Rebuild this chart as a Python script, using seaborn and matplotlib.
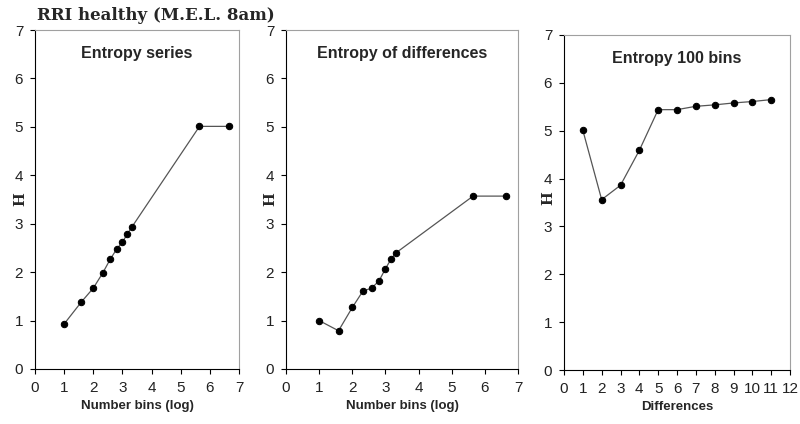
import matplotlib
matplotlib.use("Agg")
import matplotlib.pyplot as plt
import seaborn as sns
import pandas as pd

sns.set_theme(style="white")
plt.rcParams['font.family'] = ['Liberation Sans', 'DejaVu Sans']

title = "RRI healthy (M.E.L. 8am)"
# Panel 1: Entropy series
x_bins_log = [1.0, 1.585, 2.0, 2.322, 2.585, 2.807, 3.0, 3.17, 3.322, 5.644, 6.644]
h_series = [0.93, 1.38, 1.67, 1.98, 2.27, 2.48, 2.62, 2.79, 2.93, 5.01, 5.01]
# Panel 2: Entropy of differences
h_diffs = [1.0, 0.79, 1.27, 1.61, 1.67, 1.82, 2.07, 2.27, 2.40, 3.57, 3.57]
# Panel 3: Entropy 100 bins
differences = [1, 2, 3, 4, 5, 6, 7, 8, 9, 10, 11]
h_100 = [5.01, 3.56, 3.86, 4.59, 5.44, 5.44, 5.51, 5.54, 5.58, 5.61, 5.65]

panel_titles = ["Entropy series", "Entropy of differences", "Entropy 100 bins"]
xlabels = ["Number bins (log)", "Number bins (log)", "Differences"]

fig = plt.figure(figsize=(8.0, 4.24), dpi=100)
fig.patch.set_facecolor('white')

rects = [
    [35/800, 55/424, 204/800, 339/424],
    [286/800, 55/424, 232/800, 339/424],
    [564/800, 54/424, 226/800, 335/424],
]
ylabel_x = [-0.039, -0.039, -0.040]
ylabel_y = [0.5, 0.5, 0.513]
datasets = [
    (x_bins_log, h_series, 7),
    (x_bins_log, h_diffs, 7),
    (differences, h_100, 12),
]

for i, (rect, (xs, ys, xmax)) in enumerate(zip(rects, datasets)):
    ax = fig.add_axes(rect)
    df = pd.DataFrame({"x": xs, "y": ys})
    sns.lineplot(data=df, x="x", y="y", ax=ax, color="#555555", linewidth=0.9,
                 marker="o", markersize=4.6, markerfacecolor="black",
                 markeredgecolor="black", sort=False)
    ax.set_xlim(0, xmax)
    ax.set_ylim(0, 7)
    ax.set_xticks(range(0, xmax + 1))
    ax.set_yticks(range(0, 8))
    ax.tick_params(axis='both', which='major', direction='out', length=3.5,
                   width=0.8, color='black', labelsize=11, labelcolor='#222222',
                   pad=5, bottom=True, left=True)
    ax.spines['left'].set_color('black')
    ax.spines['bottom'].set_color('black')
    ax.spines['top'].set_color('#a0a0a0')
    ax.spines['right'].set_color('#a0a0a0')
    for s in ax.spines.values():
        s.set_linewidth(0.8)
    ax.set_xlabel(xlabels[i], fontsize=9.5, fontweight='bold', labelpad=4)
    ax.set_ylabel("H", fontsize=10.5, fontweight='bold',
                  family=['DejaVu Serif', 'DejaVu Sans'])
    ax.yaxis.set_label_coords(ylabel_x[i], ylabel_y[i])
    ax.text(0.5, 0.93, panel_titles[i], transform=ax.transAxes, ha='center',
            va='center', fontsize=11.5, fontweight='bold')
    ax.grid(False)

fig.text(37/800, 1 - 16/424, title, ha='left', va='center', fontsize=12,
         fontweight='bold', family=['DejaVu Serif'])

fig.savefig("out.png", dpi=100, facecolor='white')
